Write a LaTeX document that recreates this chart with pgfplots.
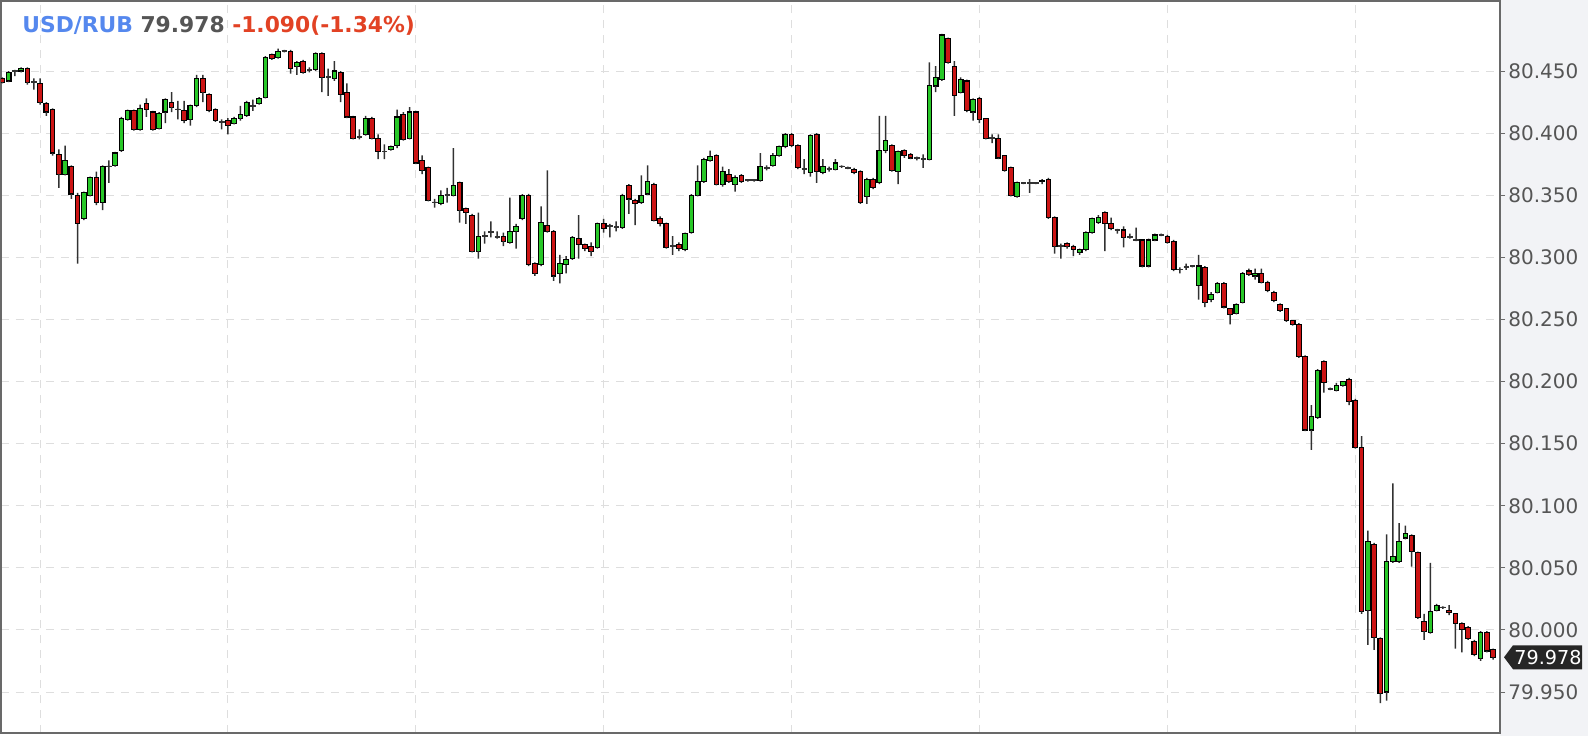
\documentclass[border=0pt]{standalone}
\usepackage{pgfplots}
\usepackage{pgfplotstable}
\usepackage{fontspec}
\setmainfont{DejaVu Sans}
\pgfplotsset{compat=1.18}

\definecolor{upgreen}{RGB}{40,200,40}
\definecolor{downred}{RGB}{204,20,20}
\definecolor{wickgray}{RGB}{50,50,50}
\definecolor{gridgray}{RGB}{222,222,222}
\definecolor{panelgray}{RGB}{242,243,246}
\definecolor{framegray}{RGB}{105,105,105}
\definecolor{labelgray}{RGB}{85,85,85}
\definecolor{pairblue}{RGB}{85,136,238}
\definecolor{chgred}{RGB}{226,66,36}

% one row per candle: index, open, high, low, close
\pgfplotstableread{
i o h l c
1 80.444 80.445 80.440 80.441
2 80.442 80.450 80.441 80.449
3 80.450 80.451 80.446 80.450
4 80.450 80.453 80.449 80.452
5 80.452 80.453 80.439 80.441
6 80.441 80.444 80.435 80.441
7 80.440 80.444 80.423 80.425
8 80.424 80.425 80.414 80.417
9 80.419 80.420 80.382 80.384
10 80.383 80.387 80.356 80.367
11 80.367 80.390 80.366 80.378
12 80.373 80.374 80.347 80.351
13 80.350 80.352 80.295 80.327
14 80.331 80.353 80.330 80.352
15 80.350 80.365 80.349 80.364
16 80.364 80.369 80.342 80.344
17 80.344 80.374 80.338 80.373
18 80.373 80.378 80.360 80.373
19 80.374 80.385 80.373 80.384
20 80.386 80.413 80.385 80.412
21 80.411 80.419 80.410 80.418
22 80.418 80.419 80.402 80.403
23 80.403 80.423 80.402 80.420
24 80.424 80.428 80.413 80.419
25 80.417 80.418 80.402 80.403
26 80.404 80.417 80.403 80.416
27 80.417 80.428 80.408 80.427
28 80.425 80.433 80.417 80.421
29 80.419 80.426 80.411 80.419
30 80.418 80.426 80.408 80.410
31 80.411 80.423 80.406 80.422
32 80.422 80.447 80.421 80.444
33 80.444 80.447 80.425 80.433
34 80.431 80.432 80.417 80.418
35 80.419 80.420 80.409 80.410
36 80.409 80.411 80.403 80.409
37 80.410 80.412 80.399 80.406
38 80.408 80.413 80.407 80.412
39 80.412 80.422 80.410 80.415
40 80.414 80.426 80.413 80.425
41 80.422 80.427 80.418 80.422
42 80.424 80.429 80.423 80.428
43 80.429 80.462 80.428 80.461
44 80.463 80.464 80.459 80.460
45 80.461 80.468 80.460 80.466
46 80.466 80.467 80.465 80.466
47 80.466 80.467 80.448 80.452
48 80.454 80.458 80.447 80.457
49 80.458 80.459 80.448 80.449
50 80.451 80.453 80.449 80.451
51 80.451 80.465 80.450 80.464
52 80.464 80.465 80.433 80.445
53 80.445 80.452 80.430 80.445
54 80.444 80.458 80.442 80.450
55 80.449 80.450 80.425 80.431
56 80.433 80.440 80.412 80.413
57 80.413 80.414 80.395 80.396
58 80.397 80.403 80.395 80.397
59 80.399 80.414 80.398 80.412
60 80.412 80.413 80.395 80.396
61 80.396 80.399 80.379 80.385
62 80.385 80.391 80.379 80.385
63 80.387 80.390 80.386 80.389
64 80.390 80.419 80.388 80.413
65 80.415 80.417 80.394 80.395
66 80.396 80.421 80.395 80.417
67 80.417 80.418 80.375 80.376
68 80.378 80.382 80.367 80.370
69 80.372 80.373 80.345 80.346
70 80.344 80.347 80.340 80.344
71 80.343 80.354 80.342 80.350
72 80.350 80.356 80.344 80.350
73 80.350 80.388 80.349 80.358
74 80.360 80.361 80.328 80.338
75 80.339 80.340 80.327 80.336
76 80.334 80.335 80.304 80.305
77 80.305 80.336 80.299 80.317
78 80.317 80.321 80.311 80.317
79 80.320 80.329 80.316 80.320
80 80.316 80.321 80.315 80.316
81 80.317 80.320 80.309 80.313
82 80.312 80.348 80.311 80.321
83 80.321 80.327 80.307 80.325
84 80.331 80.351 80.330 80.350
85 80.350 80.351 80.293 80.294
86 80.295 80.296 80.285 80.287
87 80.294 80.341 80.293 80.328
88 80.326 80.370 80.320 80.321
89 80.321 80.322 80.281 80.285
90 80.287 80.302 80.279 80.295
91 80.294 80.301 80.287 80.298
92 80.299 80.317 80.298 80.316
93 80.315 80.334 80.299 80.310
94 80.310 80.311 80.305 80.307
95 80.309 80.312 80.301 80.305
96 80.308 80.328 80.307 80.327
97 80.327 80.331 80.320 80.323
98 80.325 80.327 80.316 80.325
99 80.324 80.329 80.321 80.324
100 80.324 80.351 80.323 80.350
101 80.358 80.359 80.335 80.347
102 80.346 80.347 80.326 80.343
103 80.344 80.366 80.343 80.350
104 80.351 80.374 80.350 80.361
105 80.359 80.360 80.329 80.330
106 80.331 80.333 80.325 80.327
107 80.327 80.328 80.307 80.308
108 80.309 80.317 80.302 80.309
109 80.310 80.312 80.305 80.307
110 80.306 80.320 80.305 80.319
111 80.320 80.351 80.319 80.350
112 80.350 80.374 80.349 80.361
113 80.361 80.380 80.360 80.379
114 80.378 80.386 80.377 80.381
115 80.382 80.383 80.358 80.359
116 80.359 80.373 80.357 80.369
117 80.367 80.371 80.360 80.361
118 80.359 80.366 80.353 80.364
119 80.366 80.367 80.360 80.361
120 80.362 80.363 80.361 80.362
121 80.362 80.363 80.361 80.362
122 80.362 80.384 80.361 80.373
123 80.372 80.374 80.370 80.372
124 80.374 80.384 80.373 80.382
125 80.382 80.390 80.381 80.389
126 80.389 80.400 80.388 80.399
127 80.399 80.400 80.389 80.390
128 80.390 80.391 80.371 80.372
129 80.371 80.379 80.367 80.371
130 80.368 80.399 80.365 80.398
131 80.399 80.400 80.360 80.369
132 80.368 80.379 80.367 80.373
133 80.371 80.373 80.369 80.371
134 80.371 80.379 80.370 80.376
135 80.373 80.374 80.372 80.373
136 80.372 80.373 80.371 80.372
137 80.371 80.372 80.367 80.368
138 80.369 80.370 80.343 80.344
139 80.349 80.364 80.343 80.363
140 80.363 80.364 80.355 80.356
141 80.360 80.414 80.359 80.386
142 80.386 80.414 80.384 80.394
143 80.390 80.391 80.369 80.370
144 80.369 80.386 80.359 80.385
145 80.386 80.387 80.380 80.382
146 80.383 80.384 80.379 80.380
147 80.380 80.381 80.378 80.380
148 80.379 80.383 80.372 80.379
149 80.379 80.457 80.378 80.438
150 80.438 80.454 80.433 80.445
151 80.443 80.480 80.442 80.479
152 80.476 80.477 80.456 80.457
153 80.454 80.458 80.414 80.430
154 80.433 80.445 80.432 80.443
155 80.442 80.443 80.417 80.418
156 80.417 80.428 80.410 80.427
157 80.428 80.429 80.408 80.411
158 80.412 80.412 80.395 80.396
159 80.396 80.399 80.392 80.396
160 80.396 80.399 80.379 80.380
161 80.382 80.382 80.369 80.370
162 80.372 80.373 80.349 80.350
163 80.349 80.361 80.348 80.360
164 80.360 80.360 80.359 80.360
165 80.360 80.363 80.352 80.360
166 80.360 80.360 80.359 80.360
167 80.362 80.363 80.359 80.361
168 80.363 80.364 80.331 80.332
169 80.332 80.333 80.303 80.309
170 80.309 80.311 80.299 80.309
171 80.311 80.312 80.307 80.309
172 80.309 80.310 80.301 80.306
173 80.304 80.307 80.302 80.306
174 80.306 80.321 80.305 80.320
175 80.320 80.332 80.319 80.331
176 80.328 80.334 80.327 80.332
177 80.336 80.337 80.305 80.327
178 80.327 80.332 80.322 80.323
179 80.322 80.323 80.319 80.322
180 80.322 80.325 80.308 80.316
181 80.316 80.319 80.315 80.316
182 80.314 80.324 80.313 80.314
183 80.314 80.314 80.292 80.293
184 80.293 80.315 80.292 80.314
185 80.314 80.319 80.313 80.318
186 80.318 80.319 80.317 80.318
187 80.317 80.318 80.311 80.312
188 80.313 80.314 80.289 80.290
189 80.290 80.292 80.287 80.290
190 80.292 80.295 80.290 80.292
191 80.293 80.293 80.292 80.293
192 80.277 80.302 80.266 80.293
193 80.292 80.293 80.260 80.264
194 80.266 80.272 80.264 80.270
195 80.272 80.280 80.271 80.279
196 80.279 80.280 80.259 80.260
197 80.259 80.259 80.246 80.254
198 80.255 80.263 80.254 80.262
199 80.264 80.288 80.263 80.287
200 80.289 80.291 80.285 80.286
201 80.285 80.291 80.282 80.287
202 80.287 80.291 80.279 80.280
203 80.280 80.281 80.272 80.273
204 80.272 80.273 80.264 80.265
205 80.262 80.263 80.256 80.257
206 80.259 80.259 80.248 80.249
207 80.249 80.249 80.245 80.246
208 80.246 80.247 80.219 80.220
209 80.220 80.221 80.160 80.161
210 80.161 80.181 80.145 80.172
211 80.171 80.210 80.170 80.209
212 80.216 80.217 80.191 80.199
213 80.194 80.195 80.193 80.194
214 80.193 80.199 80.192 80.197
215 80.197 80.200 80.196 80.200
216 80.202 80.203 80.181 80.184
217 80.185 80.186 80.146 80.147
218 80.147 80.156 80.013 80.015
219 80.016 80.080 79.988 80.071
220 80.069 80.070 79.984 79.994
221 79.993 79.994 79.941 79.949
222 79.950 80.077 79.943 80.055
223 80.055 80.118 80.054 80.059
224 80.055 80.086 80.054 80.071
225 80.074 80.084 80.073 80.078
226 80.076 80.077 80.051 80.063
227 80.062 80.063 80.009 80.010
228 80.007 80.013 79.992 79.999
229 79.998 80.054 79.997 80.015
230 80.016 80.021 80.015 80.020
231 80.018 80.019 80.017 80.018
232 80.016 80.020 80.012 80.014
233 80.013 80.013 79.985 80.005
234 80.005 80.006 79.982 80.000
235 80.002 80.003 79.992 79.993
236 79.991 79.992 79.979 79.980
237 79.977 79.999 79.975 79.998
238 79.998 79.999 79.982 79.983
239 79.984 79.985 79.976 79.978
}\candles

\begin{document}
\begin{tikzpicture}
\path[use as bounding box] (0,0) rectangle (794pt,368pt);
\fill[white] (0,0) rectangle (750pt,368pt);
\fill[panelgray] (750pt,0) rectangle (794pt,368pt);

% prices are plotted minus 79.9 so the stacked bars start near the axis
\begin{axis}[
  at={(0.5pt,1.5pt)}, anchor=south west,
  scale only axis, width=749.5pt, height=366pt,
  ybar stacked, bar width=2.3pt,
  enlargelimits=false,
  xmin=0.77, xmax=240.11,
  ymin=0.017, ymax=0.6064,
  xtick={7,37,...,217}, xticklabels={},
  xtick style={draw=none},
  ytick={0.05,0.1,0.15,0.2,0.25,0.3,0.35,0.4,0.45,0.5,0.55},
  yticklabels={79.950,80.000,80.050,80.100,80.150,80.200,80.250,80.300,80.350,80.400,80.450},
  ytick pos=right, yticklabel pos=right,
  tick align=outside, major tick length=2.5pt,
  ytick style={framegray, line width=0.5pt},
  yticklabel style={font=\fontsize{10}{12}\selectfont, text=labelgray, inner sep=1.5pt},
  grid=major,
  major grid style={gridgray, dash pattern=on 4pt off 3.5pt, line width=0.5pt},
  axis line style={framegray, line width=0.6pt},
]
% invisible base up to the low
\addplot[draw=none, fill=none] table[x=i, y expr={\thisrow{l}-79.9}] {\candles};
% lower wick
\addplot[draw=none, fill=wickgray, bar width=0.75pt] table[x=i, y expr={min(\thisrow{o},\thisrow{c})-\thisrow{l}}] {\candles};
% rising bodies
\addplot[draw=black, fill=upgreen, line width=0.55pt] table[x=i, y expr={max(\thisrow{c}-\thisrow{o},0)}] {\candles};
% falling bodies
\addplot[draw=black, fill=downred, line width=0.55pt] table[x=i, y expr={max(\thisrow{o}-\thisrow{c},0)}] {\candles};
% doji: a thin dark dash where open equals close
\addplot[draw=black!80, fill=black!80, line width=0.3pt] table[x=i, y expr={abs(\thisrow{c}-\thisrow{o})<0.0005 ? 0.0006 : 0}] {\candles};
% upper wick
\addplot[draw=none, fill=wickgray, bar width=0.75pt] table[x=i, y expr={max(\thisrow{h}-max(\thisrow{o},\thisrow{c})-(abs(\thisrow{c}-\thisrow{o})<0.0005 ? 0.0006 : 0),0)}] {\candles};
\coordinate (lp) at (axis cs:240.11,0.078);
\end{axis}

% last price tag
\fill[black!85] ([xshift=2pt]lp) -- ([xshift=6.5pt,yshift=6pt]lp) -- ++(34.5pt,0)
  -- ++(0,-12pt) -- ([xshift=6.5pt,yshift=-6pt]lp) -- cycle;
\node[anchor=west, text=white, inner sep=0pt, font=\fontsize{9.6}{11}\selectfont]
  at ([xshift=7pt]lp) {79.978};

% header
\node[anchor=base west, inner sep=0pt, font=\bfseries\fontsize{10.9}{12}\selectfont]
  at (11pt,352pt) {\textcolor{pairblue}{USD/RUB} \textcolor{labelgray}{79.978} \textcolor{chgred}{-1.090(-1.34\%)}};
\end{tikzpicture}
\end{document}
